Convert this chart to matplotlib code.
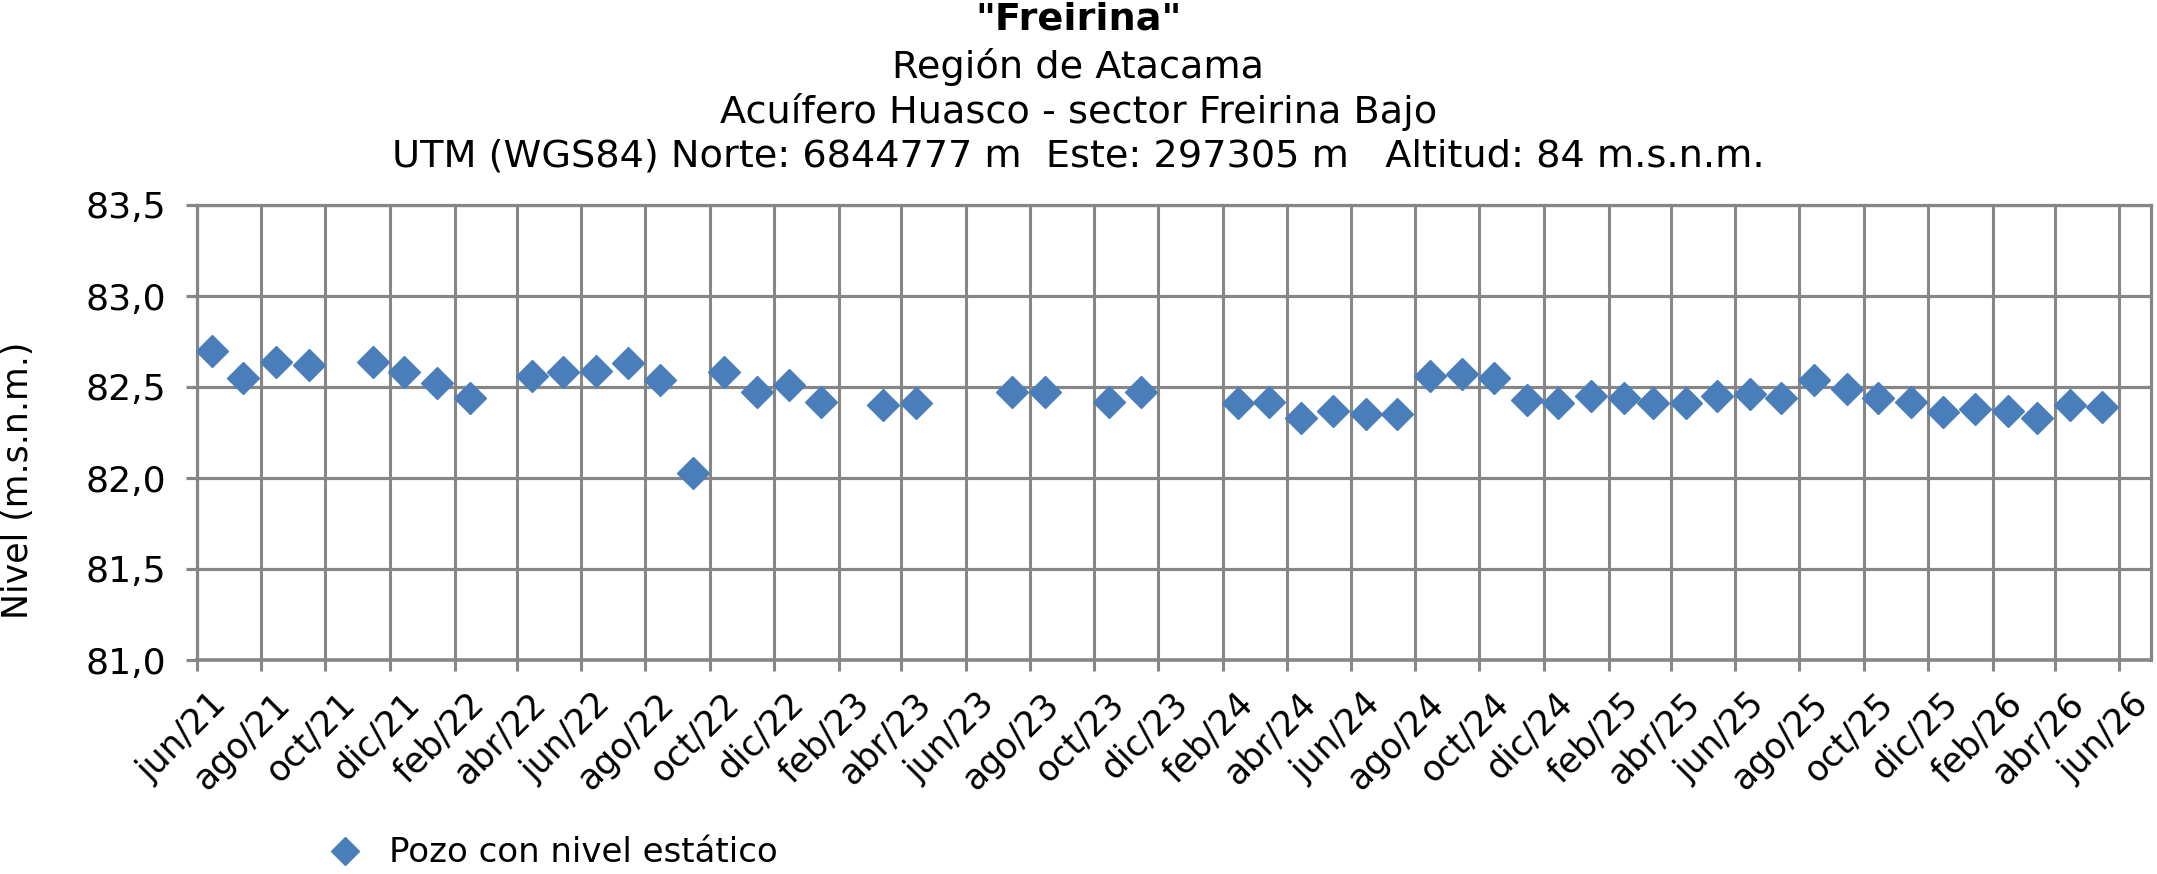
import matplotlib
matplotlib.use('Agg')
import matplotlib.pyplot as plt
import matplotlib.dates as mdates
import matplotlib.transforms as mtransforms
from matplotlib.ticker import FuncFormatter, FixedLocator
from datetime import datetime

# measurement dates (mid month) and static level (m.s.n.m.)
fechas = [
    '2021-06-15', '2021-07-15', '2021-08-15', '2021-09-15', '2021-11-15', '2021-12-15',
    '2022-01-15', '2022-02-15', '2022-04-15', '2022-05-15', '2022-06-15', '2022-07-15',
    '2022-08-15', '2022-09-15', '2022-10-15', '2022-11-15', '2022-12-15', '2023-01-15',
    '2023-03-15', '2023-04-15', '2023-07-15', '2023-08-15', '2023-10-15', '2023-11-15',
    '2024-02-15', '2024-03-15', '2024-04-15', '2024-05-15', '2024-06-15', '2024-07-15',
    '2024-08-15', '2024-09-15', '2024-10-15', '2024-11-15', '2024-12-15', '2025-01-15',
    '2025-02-15', '2025-03-15', '2025-04-15', '2025-05-15', '2025-06-15', '2025-07-15',
    '2025-08-15', '2025-09-15', '2025-10-15', '2025-11-15', '2025-12-15', '2026-01-15',
    '2026-02-15', '2026-03-15', '2026-04-15', '2026-05-15',
]
nivel = [
    82.70, 82.55, 82.64, 82.62, 82.64, 82.58,
    82.52, 82.44, 82.56, 82.58, 82.59, 82.63,
    82.54, 82.03, 82.58, 82.47, 82.51, 82.42,
    82.40, 82.41, 82.47, 82.47, 82.42, 82.47,
    82.41, 82.42, 82.33, 82.37, 82.35, 82.35,
    82.56, 82.57, 82.55, 82.43, 82.41, 82.45,
    82.44, 82.41, 82.41, 82.45, 82.46, 82.44,
    82.54, 82.49, 82.44, 82.42, 82.36, 82.38,
    82.37, 82.33, 82.40, 82.39,
]
meses = ['ene', 'feb', 'mar', 'abr', 'may', 'jun', 'jul', 'ago', 'sep', 'oct', 'nov', 'dic']
y_ticks = [81.0, 81.5, 82.0, 82.5, 83.0, 83.5]

titulos = [
    ('"Freirina"', 'bold'),
    ('Región de Atacama', 'normal'),
    ('Acuífero Huasco - sector Freirina Bajo', 'normal'),
    ('UTM (WGS84) Norte: 6844777 m  Este: 297305 m   Altitud: 84 m.s.n.m.', 'normal'),
]

plt.rcParams['font.family'] = ['DejaVu Sans']

W, H = 2157, 874
fig = plt.figure(figsize=(W / 100, H / 100), dpi=100)
fig.patch.set_facecolor('white')
ax = fig.add_axes([197 / W, 1 - 660 / H, (2151 - 197) / W, (660 - 205) / H])

grid_c = '#868686'
blue = '#4A7EBB'

x = [datetime.strptime(f, '%Y-%m-%d') for f in fechas]
ax.plot(x, nivel, linestyle='none', marker='D', markersize=16.5,
        color=blue, markeredgecolor=blue, zorder=3, clip_on=False)

# axis runs one month past the last labelled tick
ax.set_xlim(datetime(2021, 6, 1), datetime(2026, 7, 1))
ax.set_ylim(81.0, 83.5)
ax.xaxis.set_major_locator(mdates.MonthLocator(bymonth=[2, 4, 6, 8, 10, 12]))
ax.xaxis.set_major_formatter(FuncFormatter(
    lambda v, p: '%s/%s' % (meses[mdates.num2date(v).month - 1], mdates.num2date(v).strftime('%y'))))
ax.yaxis.set_major_locator(FixedLocator(y_ticks))
ax.yaxis.set_major_formatter(FuncFormatter(lambda v, p: ('%.1f' % v).replace('.', ',')))

ax.grid(axis='x', color=grid_c, linewidth=2.2)
ax.grid(axis='y', color=grid_c, linewidth=2.3)
ax.set_axisbelow(True)
for s in ['top', 'right', 'left']:
    ax.spines[s].set_color(grid_c)
    ax.spines[s].set_linewidth(2.3)
ax.spines['bottom'].set_color(grid_c)
ax.spines['bottom'].set_linewidth(2.6)

ax.tick_params(axis='x', length=8, width=2.2, color=grid_c, labelsize=25, pad=6)
ax.tick_params(axis='y', length=8, width=2.3, color=grid_c, labelsize=26, pad=14)
shift = mtransforms.ScaledTranslation(0.12, -0.07, fig.dpi_scale_trans)
for lab in ax.get_xticklabels():
    lab.set_rotation(45)
    lab.set_ha('right')
    lab.set_va('top')
    lab.set_rotation_mode('anchor')
    lab.set_transform(lab.get_transform() + shift)

fig.text(18 / W, 1 - 480 / H, 'Nivel (m.s.n.m.)', rotation=90,
         ha='center', va='center', fontsize=25)

ys = [1 - 20 / H, 1 - 67 / H, 1 - 112 / H, 1 - 157 / H]
for (t, w), yy in zip(titulos, ys):
    fig.text(0.5, yy, t, ha='center', va='center', fontsize=27.5, fontweight=w)

h, = ax.plot([], [], linestyle='none', marker='D', markersize=14, color=blue)
fig.legend([h], ['Pozo con nivel estático'], loc='center left',
           bbox_to_anchor=(328 / W, 1 - 853 / H), frameon=False, fontsize=24.5,
           handlelength=1.0, handletextpad=0.8, borderpad=0, borderaxespad=0)

fig.savefig('out.png', dpi=100, facecolor='white')
